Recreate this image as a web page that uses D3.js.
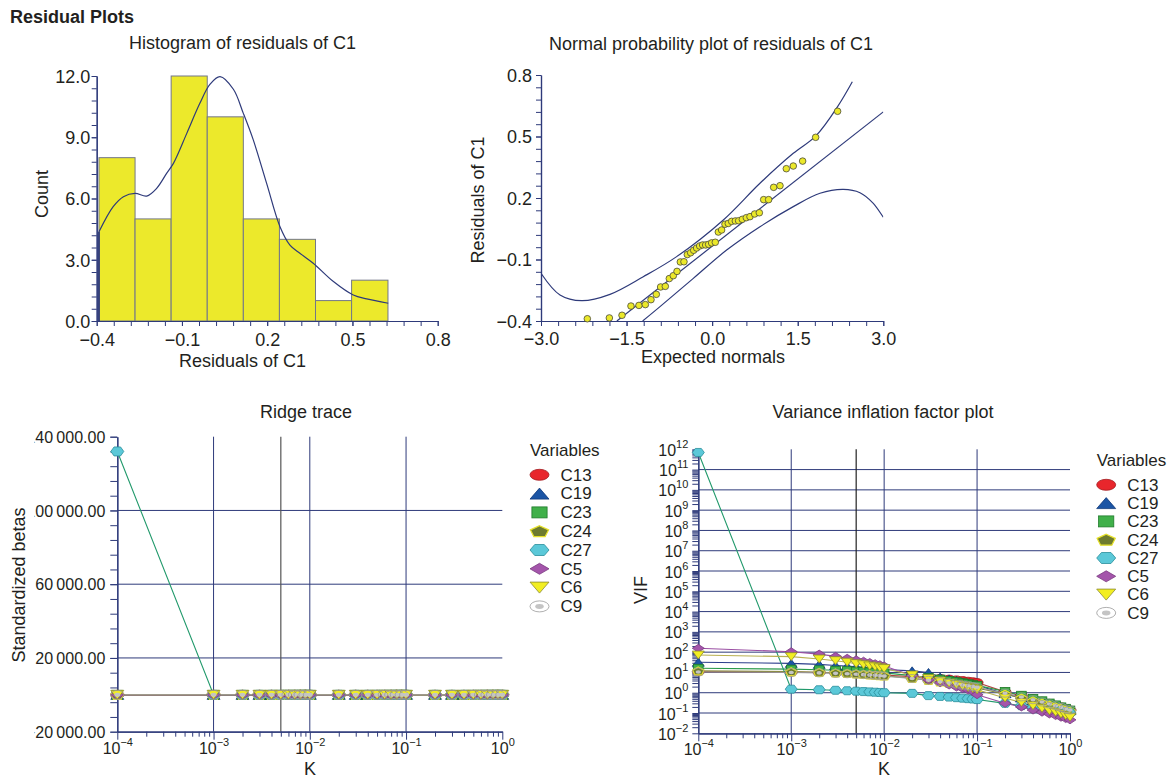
<!DOCTYPE html>
<html lang="en">
<head>
  <meta charset="utf-8">
  <script src="https://d3js.org/d3.v7.min.js"></script>
  <style>
    body { margin: 0; background: #ffffff; }
    svg text { font-family: "Liberation Sans", Arial, sans-serif; fill: #231f20; }
  </style>
</head>
<body>
  <script type="text/javascript">
    // ---- histogram of residuals ----
    var histEdges = [-0.392, -0.265, -0.138, -0.011, 0.116, 0.243, 0.370, 0.497, 0.625];
    var histCounts = [8, 5, 12, 10, 5, 4, 1, 2];
    var densX = [-0.392, -0.342, -0.306, -0.265, -0.224, -0.189, -0.154, -0.130, -0.083, -0.037, -0.001, 0.034,
                 0.081, 0.116, 0.151, 0.198, 0.245, 0.280, 0.315, 0.362, 0.433, 0.503, 0.550, 0.626];
    var densY = [4.37, 5.6, 6.09, 6.25, 6.12, 6.5, 7.23, 7.72, 9.19, 10.66, 11.6, 11.97,
                 11.35, 10.17, 8.87, 6.74, 4.62, 3.72, 3.32, 2.83, 1.93, 1.27, 1.08, 0.87];
    var histXTicks = [-0.4, -0.1, 0.2, 0.5, 0.8];
    var histYTicks = [0, 3, 6, 9, 12];

    // ---- normal probability plot ----
    var normX = [-2.188, -1.802, -1.58, -1.423, -1.283, -1.171, -1.072, -0.979, -0.903, -0.821, -0.751, -0.681,
                 -0.616, -0.558, -0.494, -0.435, -0.377, -0.324, -0.272, -0.219, -0.167, -0.114, -0.062, -0.009,
                 0.055, 0.108, 0.166, 0.225, 0.283, 0.342, 0.406, 0.464, 0.529, 0.599, 0.663, 0.745,
                 0.827, 0.903, 0.990, 1.078, 1.189, 1.300, 1.422, 1.586, 1.814, 2.199];
    var normY = [-0.389, -0.385, -0.372, -0.327, -0.324, -0.320, -0.296, -0.270, -0.234, -0.231, -0.193, -0.179,
                 -0.158, -0.112, -0.111, -0.076, -0.067, -0.055, -0.044, -0.034, -0.029, -0.029, -0.026, -0.019,
                 -0.016, 0.034, 0.044, 0.072, 0.076, 0.086, 0.088, 0.089, 0.096, 0.104, 0.109, 0.122,
                 0.128, 0.192, 0.192, 0.252, 0.260, 0.343, 0.356, 0.380, 0.496, 0.623];
    var refX = [-1.67, 3.0];
    var refY = [-0.40, 0.62];
    var upperX = [-3.0, -2.667, -2.287, -1.791, -1.207, -0.622, 0.196, 0.838, 1.422, 1.814, 2.199, 2.457];
    var upperY = [-0.167, -0.273, -0.301, -0.270, -0.184, -0.086, 0.093, 0.272, 0.418, 0.502, 0.646, 0.767];
    var lowerX = [-1.218, -0.914, -0.330, 0.254, 0.838, 1.422, 1.890, 2.299, 2.591, 2.825, 3.0];
    var lowerY = [-0.400, -0.330, -0.192, -0.054, 0.060, 0.158, 0.223, 0.242, 0.226, 0.174, 0.106];
    var normXTicks = [-3, -1.5, 0, 1.5, 3];
    var normYTicks = [-0.4, -0.1, 0.2, 0.5, 0.8];

    // ---- ridge trace and VIF ----
    var kValues = [0.0001, 0.001, 0.002, 0.003, 0.004, 0.005, 0.006, 0.007, 0.008, 0.009,
                   0.01, 0.02, 0.03, 0.04, 0.05, 0.06, 0.07, 0.08, 0.09,
                   0.1, 0.2, 0.3, 0.4, 0.5, 0.6, 0.7, 0.8, 0.9, 1.0];
    var varNames = ["C13", "C19", "C23", "C24", "C27", "C5", "C6", "C9"];
    var selectedK = 0.005;

    var betaC13 = [2.4, 1.9, 1.7, 1.6, 1.5, 1.4, 1.35, 1.3, 1.25, 1.2, 1.15, 0.95, 0.85, 0.78, 0.72, 0.68, 0.64, 0.61, 0.58, 0.56, 0.42, 0.35, 0.31, 0.28, 0.26, 0.24, 0.22, 0.21, 0.2];
    var betaC19 = [-3.1, -1.2, -0.9, -0.75, -0.66, -0.6, -0.55, -0.5, -0.47, -0.44, -0.42, -0.3, -0.24, -0.2, -0.17, -0.15, -0.13, -0.12, -0.1, -0.09, -0.04, -0.02, -0.01, 0, 0.01, 0.01, 0.02, 0.02, 0.02];
    var betaC23 = [1.8, 1.5, 1.4, 1.3, 1.25, 1.2, 1.16, 1.12, 1.09, 1.06, 1.03, 0.86, 0.76, 0.69, 0.64, 0.6, 0.57, 0.54, 0.52, 0.5, 0.38, 0.32, 0.28, 0.25, 0.23, 0.21, 0.2, 0.19, 0.18];
    var betaC24 = [-1.5, -0.9, -0.8, -0.72, -0.66, -0.6, -0.56, -0.52, -0.49, -0.46, -0.44, -0.3, -0.22, -0.17, -0.13, -0.1, -0.08, -0.06, -0.05, -0.04, 0.02, 0.04, 0.05, 0.06, 0.06, 0.06, 0.06, 0.06, 0.06];
    var betaC27 = [132000, 0.9, 0.85, 0.8, 0.78, 0.75, 0.72, 0.7, 0.68, 0.66, 0.64, 0.55, 0.5, 0.46, 0.43, 0.4, 0.38, 0.36, 0.34, 0.33, 0.25, 0.21, 0.18, 0.16, 0.15, 0.14, 0.13, 0.12, 0.11];
    var betaC5 = [-4.2, -2.6, -2.1, -1.8, -1.6, -1.45, -1.33, -1.23, -1.15, -1.08, -1.02, -0.66, -0.48, -0.37, -0.29, -0.23, -0.19, -0.15, -0.12, -0.1, 0.02, 0.06, 0.08, 0.09, 0.1, 0.1, 0.1, 0.1, 0.1];
    var betaC6 = [3.5, 2.2, 1.8, 1.55, 1.38, 1.25, 1.15, 1.07, 1.0, 0.95, 0.9, 0.62, 0.49, 0.41, 0.36, 0.32, 0.29, 0.27, 0.25, 0.23, 0.14, 0.11, 0.1, 0.09, 0.08, 0.08, 0.07, 0.07, 0.07];
    var betaC9 = [0.9, 0.8, 0.76, 0.73, 0.7, 0.68, 0.66, 0.64, 0.62, 0.6, 0.59, 0.5, 0.45, 0.41, 0.38, 0.36, 0.34, 0.32, 0.31, 0.3, 0.22, 0.18, 0.16, 0.14, 0.13, 0.12, 0.11, 0.1, 0.1];

    var vifC13 = [11, 10.5, 10, 9.6, 9.2, 8.8, 8.5, 8.2, 7.9, 7.6, 7.4, 6.2, 5.6, 5.1, 4.7, 4.3, 4.0, 3.7, 3.5, 3.2, 1.1, 0.7, 0.5, 0.38, 0.3, 0.24, 0.2, 0.17, 0.14];
    var vifC19 = [32, 28, 25, 22, 20.5, 19, 17.5, 16.5, 15.5, 14.5, 14, 12, 10, 6.0, 4.8, 4.0, 3.4, 2.9, 2.6, 2.3, 0.9, 0.55, 0.4, 0.3, 0.24, 0.2, 0.17, 0.15, 0.13];
    var vifC23 = [16, 14.5, 13.5, 12.8, 12.2, 11.6, 11.1, 10.6, 10.2, 9.8, 9.5, 7.0, 5.6, 4.7, 4.0, 3.5, 3.1, 2.8, 2.5, 2.3, 1.15, 0.75, 0.52, 0.4, 0.31, 0.25, 0.2, 0.17, 0.14];
    var vifC24 = [12, 11, 10.2, 9.6, 9.1, 8.6, 8.2, 7.8, 7.5, 7.2, 6.9, 5.2, 4.2, 3.5, 3.0, 2.6, 2.3, 2.1, 1.9, 1.7, 0.85, 0.55, 0.4, 0.31, 0.25, 0.2, 0.17, 0.14, 0.12];
    var vifC27 = [7e11, 1.5, 1.4, 1.32, 1.25, 1.19, 1.14, 1.1, 1.06, 1.03, 1.0, 0.93, 0.72, 0.66, 0.61, 0.57, 0.54, 0.51, 0.49, 0.46, 0.3, 0.23, 0.19, 0.16, 0.14, 0.13, 0.12, 0.11, 0.1];
    var vifC5 = [155, 105, 80, 62, 50, 42, 36, 31, 27, 24, 21, 7.0, 4.3, 3.1, 2.4, 1.9, 1.6, 1.35, 1.15, 0.8, 0.3, 0.2, 0.14, 0.11, 0.09, 0.075, 0.062, 0.053, 0.046];
    var vifC6 = [72, 60, 46, 38, 32, 27, 24, 21, 19, 17, 15.5, 7.5, 5.0, 3.8, 3.0, 2.5, 2.1, 1.8, 1.6, 1.4, 0.55, 0.33, 0.23, 0.17, 0.13, 0.11, 0.09, 0.075, 0.062];
    var vifC9 = [10.5, 10, 9.5, 9.0, 8.6, 8.2, 7.8, 7.5, 7.2, 6.9, 6.6, 5.0, 4.1, 3.5, 3.0, 2.7, 2.4, 2.2, 2.0, 1.85, 0.95, 0.62, 0.45, 0.35, 0.28, 0.23, 0.19, 0.16, 0.14];

    var kTicks = [1e-4, 1e-3, 1e-2, 1e-1, 1];
    var betaTicks = [-20000, 20000, 60000, 100000, 140000];
    var vifTicks = [1e-2, 1e-1, 1e0, 1e1, 1e2, 1e3, 1e4, 1e5, 1e6, 1e7, 1e8, 1e9, 1e10, 1e11, 1e12];

    var betas = {C13: betaC13, C19: betaC19, C23: betaC23, C24: betaC24, C27: betaC27, C5: betaC5, C6: betaC6, C9: betaC9};
    var vifs = {C13: vifC13, C19: vifC19, C23: vifC23, C24: vifC24, C27: vifC27, C5: vifC5, C6: vifC6, C9: vifC9};

    // look of every variable (shape, fill, outline, line colour)
    var varStyle = {
      C13: {shape: "ellipse", fill: "#e8262c", stroke: "#a31c20", line: "#b0433f"},
      C19: {shape: "up", fill: "#1b55a5", stroke: "#123a7a", line: "#2c3e8c"},
      C23: {shape: "square", fill: "#40b04a", stroke: "#1e7a2a", line: "#2a9a4a"},
      C24: {shape: "pentagon", fill: "#6e7b2e", stroke: "#e6e12a", line: "#8a8a3a"},
      C27: {shape: "hexagon", fill: "#5bc8d8", stroke: "#2a8e9a", line: "#21996b"},
      C5: {shape: "diamond", fill: "#a455ab", stroke: "#7a3a80", line: "#9a4ea3"},
      C6: {shape: "down", fill: "#f2ee22", stroke: "#8a8a30", line: "#b8b050"},
      C9: {shape: "ring", fill: "none", stroke: "#9a9a9a", inner: "#c4c4c4", line: "#9a9a9a"}
    };

    var navy = "#2e3a7a";

    var svg = d3.select("body")
      .append("svg")
      .attr("width", 1174)
      .attr("height", 783);

    svg.append("rect").attr("width", 1174).attr("height", 783).attr("fill", "#fff");

    // helpers
    function styleAxis(g, size) {
      g.attr("color", navy).attr("font-size", null).attr("font-family", null);
      g.select(".domain").attr("stroke-width", 1.2);
      g.selectAll(".tick text").attr("fill", "#231f20").style("font-size", size + "px");
    }

    function addText(x, y, str, size, rotate, anchor, weight) {
      return svg.append("text")
        .attr("transform", "translate(" + x + "," + y + ")" + (rotate ? " rotate(-90)" : ""))
        .attr("text-anchor", anchor || "middle")
        .style("font-size", size + "px")
        .style("font-weight", weight || "normal")
        .text(str);
    }

    function powerLabels(text) {
      text.each(function(d) {
        var e = Math.round(Math.log10(d));
        var t = d3.select(this).text(null);
        t.append("tspan").text("10");
        t.append("tspan").attr("dy", -8).style("font-size", "11px")
          .text(e < 0 ? "\u2212" + (-e) : String(e));
      });
    }

    function logMinor(lo, hi) {
      var out = [];
      for (var e = lo; e < hi; e++) {
        for (var m = 2; m < 10; m++) out.push(m * Math.pow(10, e));
      }
      return out;
    }

    function drawMarker(g, name, w, h, inLegend) {
      var s = varStyle[name], hw = w / 2, hh = h / 2, pts;
      if (s.shape == "ellipse" || s.shape == "ring") {
        g.append("ellipse").attr("rx", hw).attr("ry", hh)
          .attr("fill", inLegend && s.shape == "ring" ? "#fff" : s.fill)
          .attr("stroke", s.stroke).attr("stroke-width", 0.8);
        if (s.shape == "ring") {
          g.append("ellipse").attr("rx", hw * 0.45).attr("ry", hh * 0.45).attr("fill", s.inner);
        }
        return;
      }
      if (s.shape == "square") {
        g.append("rect").attr("x", -hw * 0.8).attr("y", -hh).attr("width", w * 0.8).attr("height", h)
          .attr("fill", s.fill).attr("stroke", s.stroke).attr("stroke-width", 0.8);
        return;
      }
      if (s.shape == "up") pts = [[0, -hh], [hw, hh], [-hw, hh]];
      if (s.shape == "down") pts = [[-hw, -hh], [hw, -hh], [0, hh]];
      if (s.shape == "diamond") pts = [[0, -hh], [hw, 0], [0, hh], [-hw, 0]];
      if (s.shape == "hexagon") pts = [[-hw, 0], [-hw / 2, -hh], [hw / 2, -hh], [hw, 0], [hw / 2, hh], [-hw / 2, hh]];
      if (s.shape == "pentagon") {
        pts = d3.range(5).map(function(i) {
          var a = -Math.PI / 2 + i * 2 * Math.PI / 5;
          return [hw * Math.cos(a), hh * 1.1 * Math.sin(a) + 0.6];
        });
      }
      g.append("polygon")
        .attr("points", pts.map(function(p) { return p.join(","); }).join(" "))
        .attr("fill", s.fill)
        .attr("stroke", s.stroke)
        .attr("stroke-width", s.shape == "pentagon" ? 1.3 : 0.8);
    }

    function drawLegend(x, y, step) {
      svg.append("text").attr("x", x).attr("y", y).style("font-size", "17px").text("Variables");
      varNames.forEach(function(name, i) {
        var cy = y + 19.3 + i * step;
        var g = svg.append("g").attr("transform", "translate(" + (x + 9.5) + "," + cy + ")");
        drawMarker(g, name, 19, 11, true);
        svg.append("text").attr("x", x + 30.5).attr("y", cy + 5.8).style("font-size", "17px").text(name);
      });
    }

    // page title
    addText(10, 23, "Residual Plots", 18, false, "start", "bold");

    // ================= histogram =================
    var hx = d3.scaleLinear().domain([-0.4, 0.8]).range([96.7, 437.7]);
    var hy = d3.scaleLinear().domain([0, 12]).range([321, 76]);

    svg.selectAll(".bar")
      .data(histCounts)
      .enter()
      .append("rect")
      .attr("class", "bar")
      .attr("x", function(d, i) { return hx(histEdges[i]); })
      .attr("width", function(d, i) { return hx(histEdges[i + 1]) - hx(histEdges[i]); })
      .attr("y", function(d) { return hy(d); })
      .attr("height", function(d) { return hy(0) - hy(d); })
      .attr("fill", "#ece92b")
      .attr("stroke", "#737789")
      .attr("stroke-width", 1);

    // density curve
    var densLine = d3.line()
      .x(function(d, i) { return hx(densX[i]); })
      .y(function(d) { return hy(d); })
      .curve(d3.curveCatmullRom);
    svg.append("path")
      .attr("d", densLine(densY))
      .attr("fill", "none")
      .attr("stroke", navy)
      .attr("stroke-width", 1.2);
    svg.append("line")
      .attr("x1", hx(densX[0])).attr("x2", hx(densX[0]))
      .attr("y1", hy(0)).attr("y2", hy(densY[0]))
      .attr("stroke", navy).attr("stroke-width", 1.8);

    // histogram axes
    svg.append("g").attr("transform", "translate(0," + hy(0) + ")")
      .call(d3.axisBottom(hx).tickValues(d3.range(-0.4, 0.8001, 0.06)).tickSize(5).tickSizeOuter(0).tickFormat(""))
      .call(styleAxis, 18);
    svg.append("g").attr("transform", "translate(0," + hy(0) + ")")
      .call(d3.axisBottom(hx).tickValues(histXTicks).tickSize(5).tickSizeOuter(0).tickFormat(d3.format(".1f")))
      .call(styleAxis, 18)
      .selectAll(".tick text").attr("y", 25).attr("dy", null);
    svg.append("g").attr("transform", "translate(" + hx(-0.4) + ",0)")
      .call(d3.axisLeft(hy).tickValues(d3.range(0, 12.001, 0.6)).tickSize(5).tickSizeOuter(0).tickFormat(""))
      .call(styleAxis, 18);
    svg.append("g").attr("transform", "translate(" + hx(-0.4) + ",0)")
      .call(d3.axisLeft(hy).tickValues(histYTicks).tickSize(5).tickSizeOuter(0).tickFormat(d3.format(".1f")))
      .call(styleAxis, 18)
      .selectAll(".tick text").attr("x", -6.5).attr("dy", "0.35em");

    addText(242.5, 49, "Histogram of residuals of C1", 18);
    addText(242.5, 366.5, "Residuals of C1", 18);
    addText(48, 194, "Count", 18, true);

    // ================= normal probability plot =================
    var nx = d3.scaleLinear().domain([-3, 3]).range([541, 883.3]);
    var ny = d3.scaleLinear().domain([-0.4, 0.8]).range([321, 75]);

    svg.append("clipPath").attr("id", "normClip")
      .append("rect").attr("x", nx(-3)).attr("y", ny(0.8)).attr("width", nx(3) - nx(-3)).attr("height", ny(-0.4) - ny(0.8));

    var normLines = svg.append("g").attr("clip-path", "url(#normClip)");
    [[upperX, upperY], [lowerX, lowerY], [refX, refY]].forEach(function(pair) {
      var line = d3.line()
        .x(function(d, i) { return nx(pair[0][i]); })
        .y(function(d) { return ny(d); })
        .curve(d3.curveCatmullRom);
      normLines.append("path")
        .attr("d", line(pair[1]))
        .attr("fill", "none")
        .attr("stroke", navy)
        .attr("stroke-width", 1.2);
    });

    svg.append("g").attr("transform", "translate(0," + ny(-0.4) + ")")
      .call(d3.axisBottom(nx).tickValues(d3.range(-3, 3.001, 0.3)).tickSize(5).tickSizeOuter(0).tickFormat(""))
      .call(styleAxis, 18);
    svg.append("g").attr("transform", "translate(0," + ny(-0.4) + ")")
      .call(d3.axisBottom(nx).tickValues(normXTicks).tickSize(5).tickSizeOuter(0).tickFormat(d3.format(".1f")))
      .call(styleAxis, 18)
      .selectAll(".tick text").attr("y", 24).attr("dy", null);
    svg.append("g").attr("transform", "translate(" + nx(-3) + ",0)")
      .call(d3.axisLeft(ny).tickValues(d3.range(-0.4, 0.8001, 0.06)).tickSize(5).tickSizeOuter(0).tickFormat(""))
      .call(styleAxis, 18);
    svg.append("g").attr("transform", "translate(" + nx(-3) + ",0)")
      .call(d3.axisLeft(ny).tickValues(normYTicks).tickSize(5).tickSizeOuter(0).tickFormat(d3.format(".1f")))
      .call(styleAxis, 18)
      .selectAll(".tick text").attr("x", -9).attr("dy", "0.35em");

    svg.selectAll(".npoint")
      .data(normY)
      .enter()
      .append("circle")
      .attr("class", "npoint")
      .attr("cx", function(d, i) { return nx(normX[i]); })
      .attr("cy", function(d) { return ny(d); })
      .attr("r", 3.3)
      .attr("fill", "#ebe82a")
      .attr("stroke", "#4a4a3a")
      .attr("stroke-width", 0.8);

    addText(711, 50, "Normal probability plot of residuals of C1", 18);
    addText(713, 363, "Expected normals", 18);
    addText(484, 200, "Residuals of C1", 18, true);

    // ================= ridge trace =================
    var rx = d3.scaleLog().domain([1e-4, 1]).range([117.3, 502.3]);
    var ry = d3.scaleLinear().domain([-20000, 140000]).range([731.7, 436.7]);

    // grid
    betaTicks.slice(1, -1).forEach(function(v) {
      svg.append("line").attr("x1", rx(1e-4)).attr("x2", rx(1)).attr("y1", ry(v)).attr("y2", ry(v))
        .attr("stroke", navy).attr("stroke-width", 1);
    });
    kTicks.slice(1, -1).forEach(function(v) {
      svg.append("line").attr("x1", rx(v)).attr("x2", rx(v)).attr("y1", ry(140000)).attr("y2", ry(-20000))
        .attr("stroke", navy).attr("stroke-width", 1);
    });
    svg.append("line").attr("x1", rx(selectedK)).attr("x2", rx(selectedK)).attr("y1", ry(140000)).attr("y2", ry(-20000))
      .attr("stroke", "#555").attr("stroke-width", 1.2);
    svg.append("line").attr("x1", rx(1e-4)).attr("x2", rx(1)).attr("y1", ry(0)).attr("y2", ry(0))
      .attr("stroke", "#111").attr("stroke-width", 1.2);

    // axes
    svg.append("g").attr("transform", "translate(0," + ry(-20000) + ")")
      .call(d3.axisBottom(rx).tickValues(logMinor(-4, 0)).tickSize(5).tickSizeOuter(0).tickFormat(""))
      .call(styleAxis, 16);
    svg.append("g").attr("transform", "translate(0," + ry(-20000) + ")")
      .call(d3.axisBottom(rx).tickValues(kTicks).tickSize(8).tickSizeOuter(0))
      .call(styleAxis, 16)
      .selectAll(".tick text").attr("y", 22).attr("dy", null).call(powerLabels);

    var betaFormat = d3.formatLocale({decimal: ".", thousands: "\u2009", grouping: [3], currency: ["", ""], minus: "\u2212"})
      .format(",.2f");
    svg.append("clipPath").attr("id", "betaClip")
      .append("rect").attr("x", 34.5).attr("y", 420).attr("width", 100).attr("height", 330);
    svg.append("g").attr("transform", "translate(" + rx(1e-4) + ",0)")
      .call(d3.axisLeft(ry).tickValues(d3.range(-20000, 140001, 8000)).tickSize(7).tickSizeOuter(0).tickFormat(""))
      .call(styleAxis, 16);
    // labels are cut at the left edge, as in the original
    svg.append("g").attr("clip-path", "url(#betaClip)")
      .append("g").attr("transform", "translate(" + rx(1e-4) + ",0)")
      .call(d3.axisLeft(ry).tickValues(betaTicks).tickSize(7).tickSizeOuter(0).tickFormat(betaFormat))
      .call(styleAxis, 16)
      .selectAll(".tick text").attr("x", -12).attr("dy", "0.36em");

    // series lines and markers
    varNames.forEach(function(name) {
      var line = d3.line()
        .x(function(d, i) { return rx(kValues[i]); })
        .y(function(d) { return ry(d); });
      svg.append("path").attr("d", line(betas[name]))
        .attr("fill", "none").attr("stroke", varStyle[name].line).attr("stroke-width", 1.1);
    });
    varNames.forEach(function(name) {
      betas[name].forEach(function(v, i) {
        var g = svg.append("g").attr("transform", "translate(" + rx(kValues[i]) + "," + ry(v) + ")");
        drawMarker(g, name, 13, 9);
      });
    });

    addText(306, 418, "Ridge trace", 18);
    addText(310, 775, "K", 18);
    addText(25, 585, "Standardized betas", 18, true);
    drawLegend(530, 455.5, 18.8);

    // ================= VIF plot =================
    var vx = d3.scaleLog().domain([1e-4, 1]).range([698.3, 1070]);
    var vy = d3.scaleLog().domain([1e-2, 1e12]).range([733.3, 449.3]);

    vifTicks.slice(1, -1).forEach(function(v) {
      svg.append("line").attr("x1", vx(1e-4)).attr("x2", vx(1)).attr("y1", vy(v)).attr("y2", vy(v))
        .attr("stroke", navy).attr("stroke-width", 1);
    });
    kTicks.slice(1, -1).forEach(function(v) {
      svg.append("line").attr("x1", vx(v)).attr("x2", vx(v)).attr("y1", vy(1e12)).attr("y2", vy(1e-2))
        .attr("stroke", navy).attr("stroke-width", 1);
    });
    svg.append("line").attr("x1", vx(selectedK)).attr("x2", vx(selectedK)).attr("y1", vy(1e12)).attr("y2", vy(1e-2))
      .attr("stroke", "#222").attr("stroke-width", 1.2);

    svg.append("g").attr("transform", "translate(0," + vy(1e-2) + ")")
      .call(d3.axisBottom(vx).tickValues(logMinor(-4, 0)).tickSize(5).tickSizeOuter(0).tickFormat(""))
      .call(styleAxis, 16);
    svg.append("g").attr("transform", "translate(0," + vy(1e-2) + ")")
      .call(d3.axisBottom(vx).tickValues(kTicks).tickSize(8).tickSizeOuter(0))
      .call(styleAxis, 16)
      .selectAll(".tick text").attr("y", 22).attr("dy", null).call(powerLabels);
    svg.append("g").attr("transform", "translate(" + vx(1e-4) + ",0)")
      .call(d3.axisLeft(vy).tickValues(logMinor(-2, 12)).tickSize(6).tickSizeOuter(0).tickFormat(""))
      .call(styleAxis, 16);
    svg.append("g").attr("transform", "translate(" + vx(1e-4) + ",0)")
      .call(d3.axisLeft(vy).tickValues(vifTicks).tickSize(6).tickSizeOuter(0))
      .call(styleAxis, 16)
      .selectAll(".tick text").attr("x", -10).attr("y", 6).attr("dy", null).call(powerLabels);

    varNames.forEach(function(name) {
      var line = d3.line()
        .x(function(d, i) { return vx(kValues[i]); })
        .y(function(d) { return vy(d); });
      svg.append("path").attr("d", line(vifs[name]))
        .attr("fill", "none").attr("stroke", varStyle[name].line).attr("stroke-width", 1.1);
    });
    varNames.forEach(function(name) {
      vifs[name].forEach(function(v, i) {
        var g = svg.append("g").attr("transform", "translate(" + vx(kValues[i]) + "," + vy(v) + ")");
        drawMarker(g, name, 12, 8);
      });
    });

    addText(883, 418, "Variance inflation factor plot", 18);
    addText(884, 775, "K", 18);
    addText(647, 590, "VIF", 18, true);
    drawLegend(1096.7, 465.5, 18.3);
  </script>
</body>
</html>
